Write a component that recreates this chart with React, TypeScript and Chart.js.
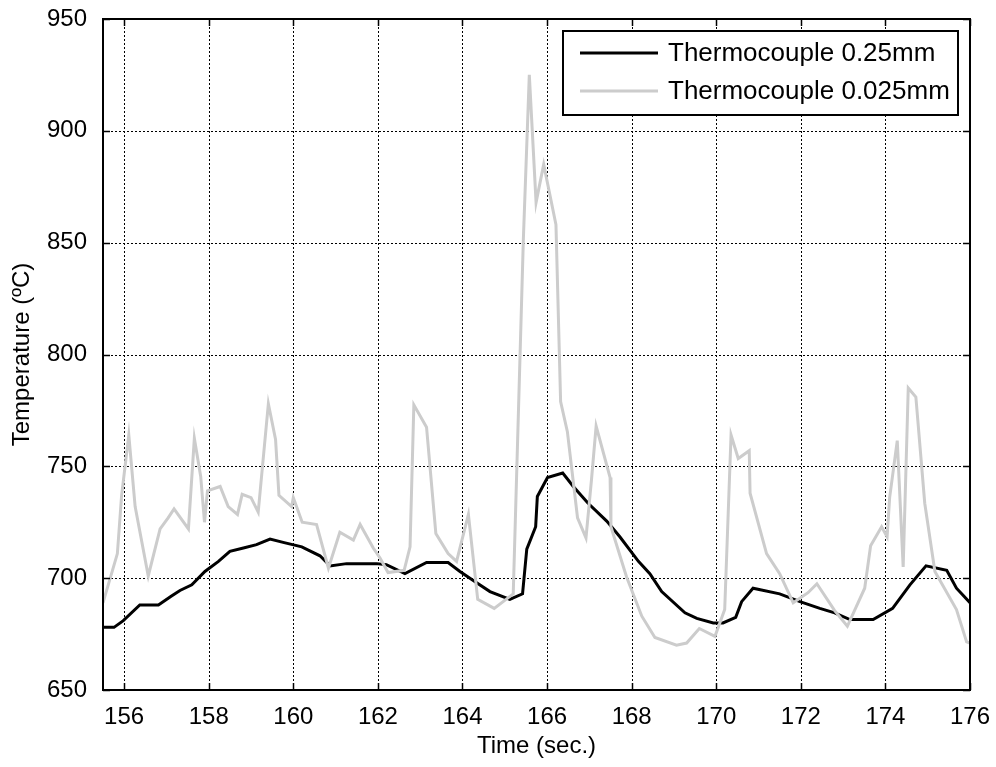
import { useEffect, useRef } from "react";
import { Chart, registerables } from "chart.js";

Chart.register(...registerables);

// 0.25 mm thermocouple trace
const thickTime = [155.5, 155.76, 155.98, 156.37, 156.81, 157.12, 157.32, 157.6, 157.91, 158.23, 158.5, 158.82, 159.13, 159.45, 159.76, 160.2, 160.63, 160.87, 161.26, 161.97, 162.2, 162.64, 163.15, 163.66, 163.94, 164.29, 164.65, 165.12, 165.42, 165.52, 165.73, 165.77, 166.01, 166.37, 166.62, 166.97, 167.41, 167.72, 168.16, 168.43, 168.71, 169.26, 169.54, 169.93, 170.16, 170.46, 170.6, 170.87, 171.5, 171.98, 172.45, 172.8, 173.16, 173.71, 174.17, 174.58, 174.96, 175.45, 175.68, 176];
const thickTemp = [678, 678, 681, 688, 688, 692, 694.5, 697, 703, 707.5, 712, 713.5, 715, 717.5, 716, 714, 710, 705.5, 706.5, 706.5, 706, 702, 707, 707, 703, 698.5, 694, 690.5, 693, 713, 723, 736.5, 745, 747, 741, 733.5, 725.5, 718.5, 707.5, 702, 694, 684.5, 682, 680, 680, 682.5, 689.5, 695.5, 693, 689.5, 686.5, 684.5, 681.5, 681.5, 686.5, 697, 705.5, 703.5, 695.5, 689];

// 0.025 mm thermocouple trace
const thinTime = [155.5, 155.84, 155.94, 156.11, 156.26, 156.57, 156.85, 157.04, 157.18, 157.52, 157.66, 157.81, 157.9, 157.97, 158.27, 158.46, 158.68, 158.79, 159.0, 159.17, 159.41, 159.58, 159.66, 159.96, 160.0, 160.21, 160.55, 160.83, 161.1, 161.42, 161.58, 161.89, 162.05, 162.24, 162.62, 162.76, 162.85, 163.15, 163.37, 163.66, 163.86, 164.14, 164.36, 164.75, 165.2, 165.44, 165.58, 165.74, 165.92, 166.21, 166.32, 166.48, 166.72, 166.92, 167.05, 167.16, 167.49, 167.51, 167.88, 168.24, 168.55, 169.06, 169.3, 169.6, 169.97, 170.2, 170.35, 170.52, 170.78, 170.8, 171.19, 171.5, 171.82, 172.17, 172.38, 172.8, 173.1, 173.51, 173.65, 173.91, 174.04, 174.1, 174.28, 174.42, 174.54, 174.72, 174.93, 175.17, 175.68, 175.92, 176];
const thinTemp = [689, 711, 737, 764, 732, 701, 722, 727, 731, 722, 762.5, 745.5, 725, 739, 741, 732, 728.5, 737.5, 736, 729.5, 778, 762, 737, 732, 736, 725, 724, 704.5, 720.5, 717, 724, 713.5, 709, 702.5, 703.5, 714, 777.5, 767.5, 720, 711, 707.5, 728.5, 690.5, 686.5, 693, 852, 925, 868, 885, 858, 779, 765.5, 727, 718, 744, 768, 745, 723, 700.5, 683, 673.5, 670, 671, 677.5, 674, 686, 764, 753.5, 757, 738, 711, 702, 689, 693.5, 697.5, 685.5, 678.5, 695.5, 714.5, 723, 718.5, 736, 761.5, 705, 785, 781, 733.5, 703, 686, 671.5, 671];

const timeTicks = [156, 158, 160, 162, 164, 166, 168, 170, 172, 174, 176];
const tempTicks = [650, 700, 750, 800, 850, 900, 950];

const seriesLabels = ["Thermocouple 0.25mm", "Thermocouple 0.025mm"];
const seriesColors = ["#000000", "#cccccc"];

const FONT = "'Liberation Sans', Arial, Helvetica, sans-serif";

const toPoints = (xs: number[], ys: number[]) => xs.map((x, i) => ({ x, y: ys[i] }));

// Dotted grid, inward tick marks, axes box and the boxed legend
const framePlugin = {
  id: "matlabFrame",
  beforeDatasetsDraw(chart: any) {
    const { ctx, chartArea: a, scales } = chart;
    ctx.save();
    ctx.strokeStyle = "#000";
    ctx.lineWidth = 1;
    ctx.setLineDash([2, 2]);
    for (const v of timeTicks) {
      const x = Math.round(scales.x.getPixelForValue(v)) + 0.5;
      if (x <= a.left + 1 || x >= a.right - 1) continue;
      ctx.beginPath();
      ctx.moveTo(x, a.top);
      ctx.lineTo(x, a.bottom);
      ctx.stroke();
    }
    for (const v of tempTicks) {
      const y = Math.round(scales.y.getPixelForValue(v)) + 0.5;
      if (y <= a.top + 1 || y >= a.bottom - 1) continue;
      ctx.beginPath();
      ctx.moveTo(a.left, y);
      ctx.lineTo(a.right, y);
      ctx.stroke();
    }
    ctx.restore();
  },
  afterDatasetsDraw(chart: any) {
    const { ctx, chartArea: a, scales } = chart;
    ctx.save();
    ctx.setLineDash([]);
    ctx.strokeStyle = "#000";
    ctx.lineWidth = 1.5;
    const len = 7;
    for (const v of timeTicks) {
      const x = Math.round(scales.x.getPixelForValue(v)) + 0.5;
      ctx.beginPath();
      ctx.moveTo(x, a.bottom);
      ctx.lineTo(x, a.bottom - len);
      ctx.moveTo(x, a.top);
      ctx.lineTo(x, a.top + len);
      ctx.stroke();
    }
    for (const v of tempTicks) {
      const y = Math.round(scales.y.getPixelForValue(v)) + 0.5;
      ctx.beginPath();
      ctx.moveTo(a.left, y);
      ctx.lineTo(a.left + len, y);
      ctx.moveTo(a.right, y);
      ctx.lineTo(a.right - len, y);
      ctx.stroke();
    }
    ctx.lineWidth = 2;
    ctx.strokeRect(a.left, a.top, a.right - a.left, a.bottom - a.top);

    // legend
    const bx = a.right - 407;
    const by = a.top + 12;
    const bw = 395;
    const bh = 84;
    ctx.fillStyle = "#fff";
    ctx.fillRect(bx, by, bw, bh);
    ctx.lineWidth = 2;
    ctx.strokeRect(bx, by, bw, bh);
    ctx.font = `26px ${FONT}`;
    ctx.textBaseline = "middle";
    ctx.textAlign = "left";
    seriesLabels.forEach((label, i) => {
      const cy = by + 22 + i * 38;
      ctx.strokeStyle = seriesColors[i];
      ctx.lineWidth = 3;
      ctx.beginPath();
      ctx.moveTo(bx + 17, cy);
      ctx.lineTo(bx + 95, cy);
      ctx.stroke();
      ctx.fillStyle = "#000";
      ctx.fillText(label, bx + 105, cy + 1);
    });
    ctx.restore();
  },
};

export default function App() {
  const canvasRef = useRef<HTMLCanvasElement | null>(null);

  useEffect(() => {
    const canvas = canvasRef.current;
    if (!canvas) return;
    const tickFont = { family: FONT, size: 24 };
    const chart = new Chart(canvas, {
      type: "line",
      data: {
        datasets: [
          {
            label: seriesLabels[0],
            data: toPoints(thickTime, thickTemp),
            borderColor: seriesColors[0],
            borderWidth: 3,
            pointRadius: 0,
            tension: 0,
            order: 1,
          },
          {
            label: seriesLabels[1],
            data: toPoints(thinTime, thinTemp),
            borderColor: seriesColors[1],
            borderWidth: 3,
            pointRadius: 0,
            tension: 0,
            order: 0,
          },
        ],
      },
      options: {
        animation: false,
        responsive: false,
        devicePixelRatio: 1,
        layout: { padding: { left: 0, top: 19, right: 26, bottom: 0 } },
        plugins: { legend: { display: false }, tooltip: { enabled: false } },
        scales: {
          x: {
            type: "linear",
            min: 155.5,
            max: 176,
            afterBuildTicks: (s: any) => {
              s.ticks = timeTicks.map((value) => ({ value }));
            },
            afterFit: (s: any) => {
              s.height = 77;
              s.paddingLeft = 0;
              s.paddingRight = 0;
            },
            grid: { display: false },
            border: { display: false },
            ticks: { font: tickFont, color: "#000", padding: 5, maxRotation: 0, autoSkip: false },
            title: {
              display: true,
              text: "Time (sec.)",
              font: tickFont,
              color: "#000",
              padding: { top: 0, bottom: 6 },
            },
          },
          y: {
            type: "linear",
            min: 650,
            max: 950,
            afterBuildTicks: (s: any) => {
              s.ticks = tempTicks.map((value) => ({ value }));
            },
            afterFit: (s: any) => {
              s.width = 103;
              s.paddingTop = 0;
              s.paddingBottom = 0;
            },
            grid: { display: false },
            border: { display: false },
            ticks: { font: tickFont, color: "#000", padding: 8, autoSkip: false },
            title: {
              display: true,
              text: "Temperature (ºC)",
              font: tickFont,
              color: "#000",
              padding: { top: 8, bottom: 0 },
            },
          },
        },
      },
      plugins: [framePlugin],
    });
    return () => chart.destroy();
  }, []);

  return (
    <div style={{ position: "fixed", left: 0, top: 0, width: 996, height: 767, background: "#fff" }}>
      <canvas ref={canvasRef} width={996} height={767} />
    </div>
  );
}
